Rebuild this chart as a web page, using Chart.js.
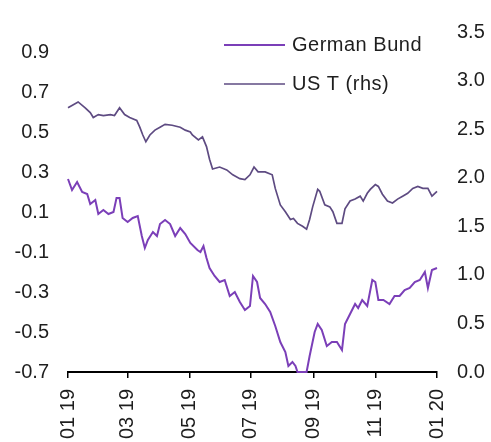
<!DOCTYPE html>
<html>
<head>
<meta charset="utf-8">
<script src="https://cdn.jsdelivr.net/npm/chart.js@4/dist/chart.umd.min.js"></script>
<style>
  body { margin: 0; background: #fff; }
  #wrap { width: 491px; height: 442px; }
</style>
</head>
<body>
<div id="wrap"><canvas id="bondChart" width="491" height="442"></canvas></div>
<script>
// days counted from 1 Jan 2019
const xTickDays = [0, 59, 120, 181, 243, 304, 365];
const xTickLabels = ['01 19', '03 19', '05 19', '07 19', '09 19', '11 19', '01 20'];
const leftTicks = [-0.7, -0.5, -0.3, -0.1, 0.1, 0.3, 0.5, 0.7, 0.9];

// German Bund yield (lhs)
const bundDays = [0, 4, 9, 14, 19, 22, 27, 30, 35, 40, 45, 48, 51, 54, 59, 64, 69, 73, 76, 79,
  84, 88, 91, 96, 101, 106, 111, 116, 121, 128, 131, 134, 137, 140, 145, 150, 155, 160, 165, 170,
  175, 180, 183, 187, 190, 195, 200, 205, 210, 215, 218, 222, 225, 227, 232, 236, 239, 244, 247, 251,
  256, 261, 266, 271, 274, 279, 284, 287, 291, 296, 301, 304, 307, 312, 318, 323, 328, 333, 338, 343,
  348, 353, 356, 360, 365];
const bundValues = [0.265, 0.21, 0.25, 0.20, 0.19, 0.14, 0.16, 0.09, 0.11, 0.09, 0.10, 0.17, 0.17, 0.07, 0.05, 0.07, 0.08, -0.02, -0.08, -0.04,
  0.00, -0.02, 0.04, 0.06, 0.04, -0.02, 0.02, -0.01, -0.055, -0.09, -0.10, -0.07, -0.13, -0.18, -0.22, -0.25, -0.24, -0.32, -0.30, -0.35,
  -0.39, -0.37, -0.22, -0.25, -0.33, -0.36, -0.40, -0.47, -0.55, -0.60, -0.67, -0.65, -0.67, -0.70, -0.70, -0.70, -0.62, -0.50, -0.46, -0.49,
  -0.57, -0.55, -0.55, -0.59, -0.46, -0.41, -0.36, -0.38, -0.34, -0.37, -0.24, -0.25, -0.34, -0.34, -0.36, -0.32, -0.32, -0.29, -0.28, -0.25,
  -0.24, -0.20, -0.28, -0.19, -0.18];

// US Treasury yield (rhs)
const usDays = [0, 10, 17, 22, 25, 30, 35, 42, 46, 51, 56, 61, 68, 71, 74, 77, 81, 86, 91, 96,
  103, 111, 116, 121, 123, 129, 133, 137, 140, 143, 150, 157, 163, 170, 175, 180, 184, 188, 195, 202,
  205, 210, 215, 220, 223, 227, 232, 236, 239, 242, 247, 249, 254, 259, 262, 266, 271, 274, 279, 284,
  289, 292, 296, 299, 304, 307, 311, 316, 321, 326, 331, 336, 341, 346, 351, 356, 360, 365];
const usValues = [2.72, 2.78, 2.72, 2.67, 2.62, 2.65, 2.64, 2.65, 2.64, 2.72, 2.65, 2.62, 2.59, 2.52, 2.44, 2.37, 2.44, 2.49, 2.52, 2.55,
  2.54, 2.52, 2.49, 2.47, 2.44, 2.39, 2.42, 2.32, 2.19, 2.09, 2.11, 2.08, 2.03, 1.99, 1.98, 2.03, 2.11, 2.06, 2.06, 2.03,
  1.89, 1.72, 1.65, 1.57, 1.58, 1.53, 1.50, 1.47, 1.57, 1.70, 1.88, 1.86, 1.72, 1.70, 1.65, 1.53, 1.53, 1.68, 1.76, 1.78,
  1.81, 1.76, 1.84, 1.88, 1.93, 1.91, 1.83, 1.76, 1.74, 1.78, 1.81, 1.84, 1.89, 1.91, 1.89, 1.89, 1.81, 1.86];

const FONT = '"Liberation Sans", Arial, sans-serif';
const TEXT = '#1e1e1e';
const SIZE = 20;

const toPoints = (days, vals) => days.map((d, i) => ({ x: d, y: vals[i] }));

// x labels read bottom-to-top, so draw them rotated by hand
const xLabelPlugin = {
  id: 'xLabels',
  afterDraw(chart) {
    const ctx = chart.ctx;
    const xs = chart.scales.x;
    ctx.save();
    ctx.font = SIZE + 'px ' + FONT;
    ctx.fillStyle = TEXT;
    ctx.textAlign = 'right';
    ctx.textBaseline = 'middle';
    xTickDays.forEach((d, i) => {
      ctx.save();
      ctx.translate(xs.getPixelForValue(d), xs.top + 17);
      ctx.rotate(-Math.PI / 2);
      ctx.fillText(xTickLabels[i], 0, 0);
      ctx.restore();
    });
    ctx.restore();
  }
};

const legendPlugin = {
  id: 'sideLegend',
  afterDraw(chart) {
    const ctx = chart.ctx;
    ctx.save();
    ctx.font = SIZE + 'px ' + FONT;
    ctx.letterSpacing = '0.5px';
    ctx.textBaseline = 'middle';
    chart.data.datasets.forEach((ds, i) => {
      const y = 45 + i * 39;
      ctx.strokeStyle = ds.borderColor;
      ctx.lineWidth = ds.borderWidth;
      ctx.beginPath();
      ctx.moveTo(224, y);
      ctx.lineTo(285, y);
      ctx.stroke();
      ctx.fillStyle = TEXT;
      ctx.fillText(ds.label, 292, y);
    });
    ctx.restore();
  }
};

new Chart(document.getElementById('bondChart'), {
  type: 'line',
  data: {
    datasets: [{
      label: 'German Bund',
      data: toPoints(bundDays, bundValues),
      borderColor: '#7b3fb8',
      borderWidth: 2,
      pointRadius: 0,
      tension: 0,
      clip: false,
      yAxisID: 'y'
    }, {
      label: 'US T (rhs)',
      data: toPoints(usDays, usValues),
      borderColor: '#5e4b82',
      borderWidth: 1.7,
      pointRadius: 0,
      tension: 0,
      clip: false,
      yAxisID: 'y2'
    }]
  },
  options: {
    responsive: false,
    animation: false,
    layout: { padding: { top: 29, left: 0, right: 0, bottom: 0 } },
    plugins: { legend: { display: false }, tooltip: { enabled: false } },
    scales: {
      x: {
        type: 'linear',
        min: 0,
        max: 365,
        afterBuildTicks: (s) => { s.ticks = xTickDays.map(v => ({ value: v })); },
        afterFit: (s) => { s.height = 70; },
        ticks: { display: false },
        grid: { drawOnChartArea: false, drawTicks: true, tickLength: 6, color: '#000', lineWidth: 1.5 },
        border: { display: true, color: '#000', width: 2 }
      },
      y: {
        position: 'left',
        min: -0.7,
        max: 1.0,
        afterBuildTicks: (s) => { s.ticks = leftTicks.map(v => ({ value: v })); },
        afterFit: (s) => { s.width = 68; },
        ticks: {
          padding: 19,
          color: TEXT,
          font: { family: FONT, size: SIZE },
          callback: (v) => v.toFixed(1)
        },
        grid: { display: false, drawTicks: false },
        border: { display: false }
      },
      y2: {
        position: 'right',
        min: 0,
        max: 3.5,
        afterFit: (s) => { s.width = 54; },
        ticks: {
          stepSize: 0.5,
          padding: 20,
          color: TEXT,
          font: { family: FONT, size: SIZE },
          callback: (v) => v.toFixed(1)
        },
        grid: { display: false, drawTicks: false },
        border: { display: false }
      }
    }
  },
  plugins: [xLabelPlugin, legendPlugin]
});
</script>
</body>
</html>
